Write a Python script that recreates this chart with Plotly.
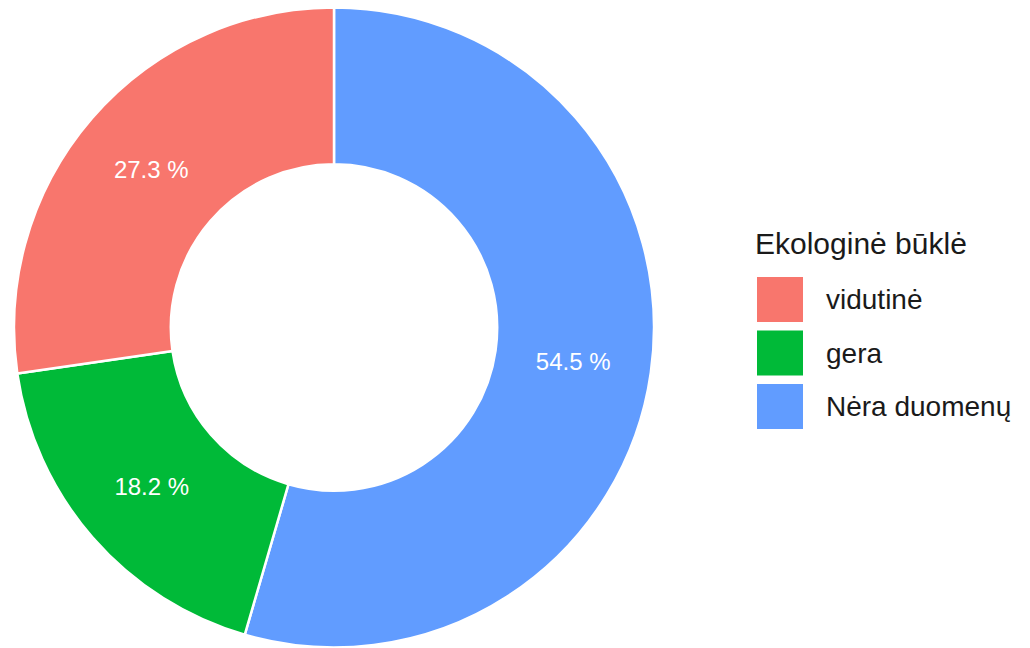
import plotly.graph_objects as go

# Ecological status shares (percent)
labels = ["vidutinė", "gera", "Nėra duomenų"]
shares = [27.3, 18.2, 54.5]
colors = ["#F8766D", "#00BA38", "#619CFF"]
legend_title = "Ekologinė būklė"

W, H = 1030, 648
TOP = 7
PLOT_H = H - TOP
FONT = "Liberation Sans, Arial, sans-serif"


def py(y_px):
    """Convert a pixel row to paper coordinates."""
    return 1 - (y_px - TOP) / PLOT_H


# Slices run clockwise from 12 o'clock in reverse legend order,
# so the first category ends up just left of the top.
fig = go.Figure(
    go.Pie(
        labels=labels[::-1],
        values=shares[::-1],
        sort=False,
        direction="clockwise",
        rotation=0,
        hole=0.51,
        marker=dict(colors=colors[::-1], line=dict(color="white", width=2.5)),
        texttemplate="%{value:.1f} %",
        textposition="inside",
        insidetextorientation="horizontal",
        textfont=dict(color="white", size=24, family=FONT),
        hoverinfo="label+percent",
        domain=dict(x=[14 / W, 654 / W], y=[0, 1]),
        showlegend=False,
    )
)

# Legend with large square keys, built from the category lists
shapes = []
annotations = [
    dict(
        text=legend_title, x=753 / W, y=py(243), xref="paper", yref="paper",
        xanchor="left", yanchor="middle", showarrow=False,
        font=dict(size=30, color="#1a1a1a", family=FONT),
    )
]
key_w, key_h, step = 46, 45, 53.5
top0 = 277
for i, (lab, col) in enumerate(zip(labels, colors)):
    y0 = top0 + i * step
    shapes.append(
        dict(
            type="rect", xref="paper", yref="paper",
            x0=757 / W, x1=(757 + key_w) / W,
            y0=py(y0 + key_h), y1=py(y0),
            fillcolor=col, line=dict(width=0),
        )
    )
    annotations.append(
        dict(
            text=lab, x=824 / W, y=py(y0 + key_h / 2),
            xref="paper", yref="paper", xanchor="left", yanchor="middle",
            showarrow=False, font=dict(size=28, color="#1a1a1a", family=FONT),
        )
    )

fig.update_layout(
    width=W,
    height=H,
    margin=dict(l=0, r=0, t=TOP, b=0),
    paper_bgcolor="white",
    plot_bgcolor="white",
    shapes=shapes,
    annotations=annotations,
)

fig.write_html("out.html")
